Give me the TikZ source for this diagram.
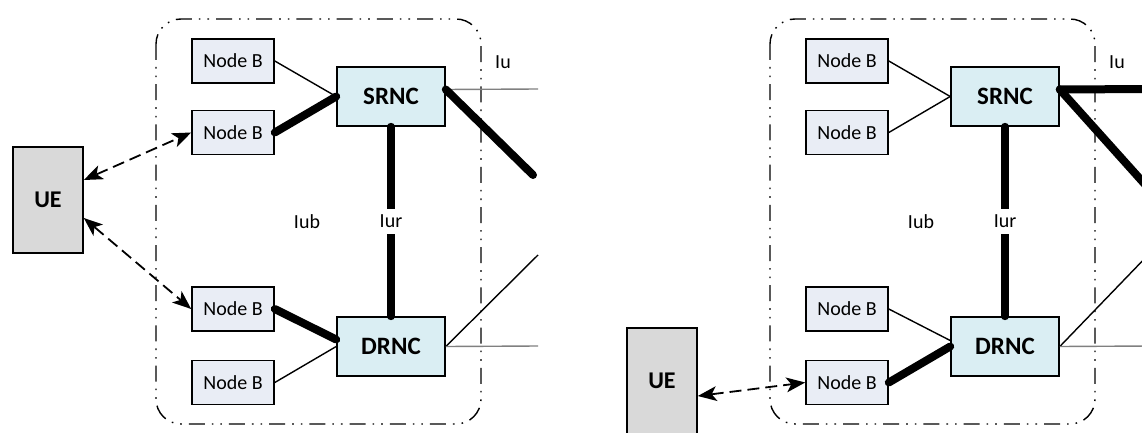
\documentclass[tikz,border=0pt]{standalone}
\usepackage{fontspec}
\setmainfont{Carlito}
\usetikzlibrary{arrows.meta}
\definecolor{nbfill}{HTML}{E9EDF5}
\definecolor{rncfill}{HTML}{DAEEF3}
\definecolor{uefill}{HTML}{D9D9D9}
\definecolor{iugray}{HTML}{808080}
\tikzset{radiotip/.tip={Stealth[length=19pt,width=15pt,inset=5pt,line width=0pt]}}
\begin{document}
\begin{tikzpicture}[x=1pt,y=-1pt,
 nodeb/.style={draw, line width=1.6pt, fill=nbfill, minimum width=82pt, minimum height=44pt, inner sep=0pt, font=\fontsize{20}{24}\selectfont},
 rnc/.style={draw, line width=1.6pt, fill=rncfill, minimum width=108pt, minimum height=59pt, inner sep=0pt, font=\fontsize{25}{29}\selectfont\bfseries},
 uebox/.style={draw, line width=1.6pt, fill=uefill, minimum width=70pt, minimum height=106pt, inner sep=0pt, font=\fontsize{24}{28}\selectfont\bfseries},
 lbl/.style={font=\fontsize{20}{24}\selectfont, inner sep=1pt},
 thinlink/.style={line width=1.4pt},
 thicklink/.style={line width=8pt, line cap=round},
 graylink/.style={line width=1.4pt, draw=iugray},
 radio/.style={line width=1.8pt, dash pattern=on 12pt off 6pt, radiotip-radiotip},
 rnsborder/.style={line width=1.4pt, rounded corners=25pt, dash pattern=on 16pt off 7pt on 1.6pt off 7pt on 1.6pt off 7pt}]
\clip (0,0) rectangle (1142,433);
\fill[white] (0,0) rectangle (1142,433);

% ---------- left panel ----------
\draw[rnsborder] (156,19) rectangle (481,424);
\node[uebox] (ueL) at (48,200) {UE};
\node[nodeb] (nb1L) at (233,61) {Node B};
\node[nodeb] (nb2L) at (233,132.5) {Node B};
\node[nodeb] (nb3L) at (233,309) {Node B};
\node[nodeb] (nb4L) at (233,382.5) {Node B};
\node[rnc] (srncL) at (391,96.5) {SRNC};
\node[rnc] (drncL) at (391,346.5) {DRNC};
\coordinate (cnAL) at (538,89);
\coordinate (cnBL) at (533,175);
\coordinate (cnCL) at (538,255);
\coordinate (cnDL) at (538,346);
\node[lbl] (iuL) at (503,62) {Iu};
\node[lbl] (iubL) at (307,222) {Iub};

\draw[thinlink] (nb1L.east) -- (srncL.west);
\draw[thicklink] (nb2L.east) -- (srncL.west);
\draw[thicklink] (nb3L.east) -- ([yshift=7pt]drncL.west);
\draw[thinlink] (nb4L.east) -- (drncL.west);
\draw[graylink] ([yshift=7pt]srncL.east) -- (cnAL);
\draw[thicklink] ([yshift=7pt]srncL.east) -- (cnBL);
\draw[thinlink] (drncL.east) -- (cnCL);
\draw[graylink] (drncL.east) -- (cnDL);
\draw[thicklink] (srncL.south) -- node[lbl, fill=white, inner sep=6pt] (iurL) {Iur} (drncL.north);
\draw[radio] ([yshift=20pt]ueL.east) -- (nb2L.west);
\draw[radio] ([yshift=-18pt]ueL.east) -- (nb3L.west);

% ---------- right panel ----------
\draw[rnsborder] (770,19) rectangle (1095,424);
\node[uebox] (ueR) at (662,381) {UE};
\node[nodeb] (nb1R) at (847,61) {Node B};
\node[nodeb] (nb2R) at (847,132.5) {Node B};
\node[nodeb] (nb3R) at (847,309) {Node B};
\node[nodeb] (nb4R) at (847,382.5) {Node B};
\node[rnc] (srncR) at (1005,96.5) {SRNC};
\node[rnc] (drncR) at (1005,346.5) {DRNC};
\coordinate (cnAR) at (1150,89);
\coordinate (cnBR) at (1150,190);
\coordinate (cnCR) at (1150,253);
\coordinate (cnDR) at (1150,346);
\node[lbl] (iuR) at (1117,62) {Iu};
\node[lbl] (iubR) at (921,222) {Iub};

\draw[thinlink] (nb1R.east) -- (srncR.west);
\draw[thinlink] (nb2R.east) -- (srncR.west);
\draw[thinlink] (nb3R.east) -- ([yshift=6pt]drncR.west);
\draw[thicklink] (nb4R.east) -- (drncR.west);
\draw[graylink] ([yshift=7pt]srncR.east) -- (cnAR);
\draw[thicklink] ([yshift=7pt]srncR.east) -- (cnAR);
\draw[thicklink] ([yshift=7pt]srncR.east) -- (cnBR);
\draw[thinlink] (drncR.east) -- (cnCR);
\draw[graylink] (drncR.east) -- (cnDR);
\draw[thicklink] (srncR.south) -- node[lbl, fill=white, inner sep=6pt] (iurR) {Iur} (drncR.north);
\draw[radio] ([yshift=-15pt]ueR.east) -- (nb4R.west);
\end{tikzpicture}
\end{document}
